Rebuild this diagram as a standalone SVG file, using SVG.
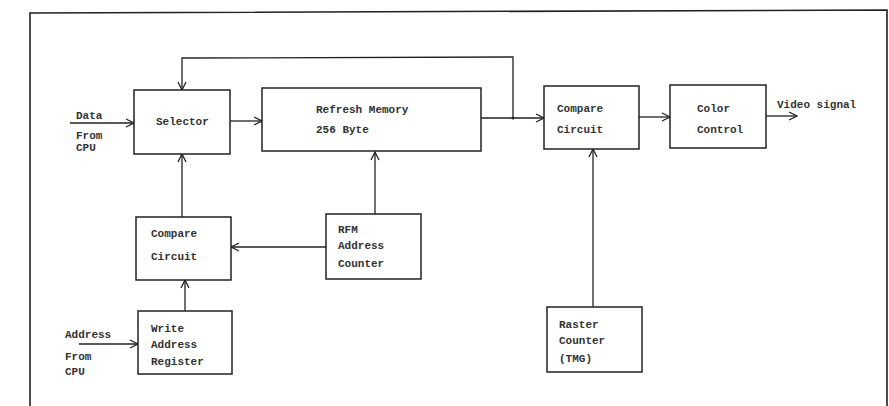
<svg xmlns="http://www.w3.org/2000/svg" width="889" height="406" viewBox="0 0 889 406">
<defs>
<style>
.box{fill:#fff;stroke:#222;stroke-width:1.5}
.ln{fill:none;stroke:#222;stroke-width:1.3}
.t{font-family:"Liberation Mono","DejaVu Sans Mono",monospace;font-size:11px;font-weight:bold;fill:#333}
.frame{fill:none;stroke:#222;stroke-width:1.6}
</style>
<marker id="arr" markerWidth="10" markerHeight="10" refX="9" refY="5" orient="auto" markerUnits="userSpaceOnUse">
<path d="M1,1 L9,5 L1,9" fill="none" stroke="#222" stroke-width="1.3"/>
</marker>
</defs>
<rect width="889" height="406" fill="#fff"/>
<g id="frame">
<path class="frame" d="M30,406 L30,13 L887,10 L887,406"/>
</g>
<g id="connectors">
<path class="ln" d="M70,123 L134,123" marker-end="url(#arr)"/>
<path class="ln" d="M230,121 L262,121" marker-end="url(#arr)"/>
<path class="ln" d="M481,118 L544,118" marker-end="url(#arr)"/>
<circle cx="513" cy="118" r="1.5" fill="#222"/>
<path class="ln" d="M513,118 L513,57 L182,58 L182,90" marker-end="url(#arr)"/>
<path class="ln" d="M639,117 L670,117" marker-end="url(#arr)"/>
<path class="ln" d="M766,116 L797,116" marker-end="url(#arr)"/>
<path class="ln" d="M182,217 L182,154" marker-end="url(#arr)"/>
<path class="ln" d="M375,214 L375,152" marker-end="url(#arr)"/>
<path class="ln" d="M326,247 L231,247" marker-end="url(#arr)"/>
<path class="ln" d="M185,311 L185,280" marker-end="url(#arr)"/>
<path class="ln" d="M79,344 L138,344" marker-end="url(#arr)"/>
<path class="ln" d="M593,307 L593,149" marker-end="url(#arr)"/>
</g>
<g id="labels">
<text class="t" x="76" y="119">Data</text>
<text class="t" x="76" y="139">From</text>
<text class="t" x="76" y="151">CPU</text>
<text class="t" x="65" y="338">Address</text>
<text class="t" x="65" y="360">From</text>
<text class="t" x="65" y="375">CPU</text>
<text class="t" x="777" y="108">Video signal</text>
</g>
<g id="selector">
<rect class="box" x="134" y="90" width="96" height="64"/>
<text class="t" x="156" y="125">Selector</text>
</g>
<g id="refresh-memory">
<rect class="box" x="262" y="88" width="219" height="63"/>
<text class="t" x="316" y="113">Refresh Memory</text>
<text class="t" x="316" y="133">256 Byte</text>
</g>
<g id="compare-circuit-right">
<rect class="box" x="544" y="86" width="95" height="63"/>
<text class="t" x="557" y="112">Compare</text>
<text class="t" x="557" y="133">Circuit</text>
</g>
<g id="color-control">
<rect class="box" x="670" y="85" width="96" height="63"/>
<text class="t" x="697" y="112">Color</text>
<text class="t" x="697" y="133">Control</text>
</g>
<g id="compare-circuit-left">
<rect class="box" x="136" y="217" width="95" height="63"/>
<text class="t" x="151" y="237">Compare</text>
<text class="t" x="151" y="260">Circuit</text>
</g>
<g id="rfm-address-counter">
<rect class="box" x="326" y="214" width="95" height="65"/>
<text class="t" x="338" y="233">RFM</text>
<text class="t" x="338" y="249">Address</text>
<text class="t" x="338" y="267">Counter</text>
</g>
<g id="write-address-register">
<rect class="box" x="138" y="311" width="94" height="63"/>
<text class="t" x="151" y="332">Write</text>
<text class="t" x="151" y="348">Address</text>
<text class="t" x="151" y="365">Register</text>
</g>
<g id="raster-counter">
<rect class="box" x="547" y="307" width="95" height="65"/>
<text class="t" x="559" y="328">Raster</text>
<text class="t" x="559" y="344">Counter</text>
<text class="t" x="559" y="362">(TMG)</text>
</g>
</svg>
